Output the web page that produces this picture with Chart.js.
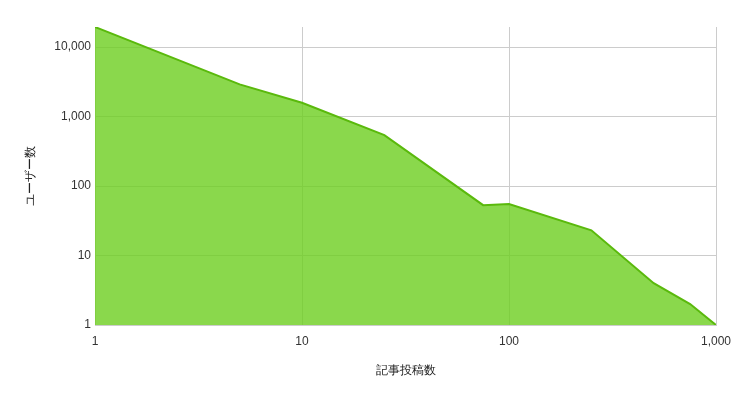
<!DOCTYPE html>
<html>
<head>
<meta charset="utf-8">
<script src="https://cdn.jsdelivr.net/npm/chart.js@4/dist/chart.umd.min.js"></script>
<style>
	body { margin: 0; background: #fff; }
	#wrap { width: 736px; height: 398px; }
</style>
</head>
<body>
<div id="wrap"><canvas id="chart1" width="736" height="398"></canvas></div>
<script>
// Posts per user (x) and number of users (y)
const postCounts = [1, 5, 10, 25, 75, 100, 250, 500, 750, 1000];
const userCounts = [19400, 2900, 1580, 540, 53, 55, 23, 4, 2, 1];
const xTicks = [1, 10, 100, 1000];
const yTicks = [1, 10, 100, 1000, 10000];

(() => {
	'use strict'

	const gridColor = '#cccccc';
	const font = { family: '"Liberation Sans", Arial, sans-serif', size: 12 };

	const points = postCounts.map((x, i) => ({ x: x, y: userCounts[i] }));

	const config = {
		type: 'line',
		data: {
			datasets: [{
				label: 'ユーザー数',
				data: points,
				borderColor: '#5ab90c',
				backgroundColor: 'rgba(109, 206, 31, 0.8)',
				borderWidth: 2,
				fill: 'start',
				tension: 0,
				pointRadius: 0,
				pointHoverRadius: 0
			}]
		},
		options: {
			responsive: false,
			animation: false,
			layout: { padding: { left: 19, right: 20, top: 27, bottom: 0 } },
			plugins: {
				legend: { display: false },
				tooltip: { enabled: false }
			},
			scales: {
				x: {
					type: 'logarithmic',
					min: 1,
					max: 1000,
					afterBuildTicks: (scale) => { scale.ticks = xTicks.map(v => ({ value: v })); },
					afterFit: (scale) => {
						scale.height = 73;
						// keep the last label from pushing the plot edge in
						scale.paddingLeft = 0;
						scale.paddingRight = 0;
					},
					grid: { color: gridColor, drawTicks: false },
					border: { color: gridColor },
					ticks: {
						autoSkip: false,
						maxRotation: 0,
						padding: 9,
						color: '#333',
						font: font,
						callback: (v) => Number(v).toLocaleString('en-US')
					},
					title: {
						display: true,
						text: '記事投稿数',
						color: '#222',
						font: font,
						padding: { top: 4, bottom: 20 }
					}
				},
				y: {
					type: 'logarithmic',
					min: 1,
					max: 19400,
					afterBuildTicks: (scale) => { scale.ticks = yTicks.map(v => ({ value: v })); },
					afterFit: (scale) => { scale.width = 76; },
					grid: { color: gridColor, drawTicks: false },
					border: { color: gridColor },
					ticks: {
						autoSkip: false,
						padding: 4,
						color: '#333',
						font: font,
						callback: (v) => Number(v).toLocaleString('en-US')
					},
					title: {
						display: true,
						text: 'ユーザー数',
						color: '#222',
						font: font,
						padding: { top: 4, bottom: 4 }
					}
				}
			}
		}
	};

	const myChart1 = new Chart(document.getElementById('chart1'), config);
})()
</script>
</body>
</html>
